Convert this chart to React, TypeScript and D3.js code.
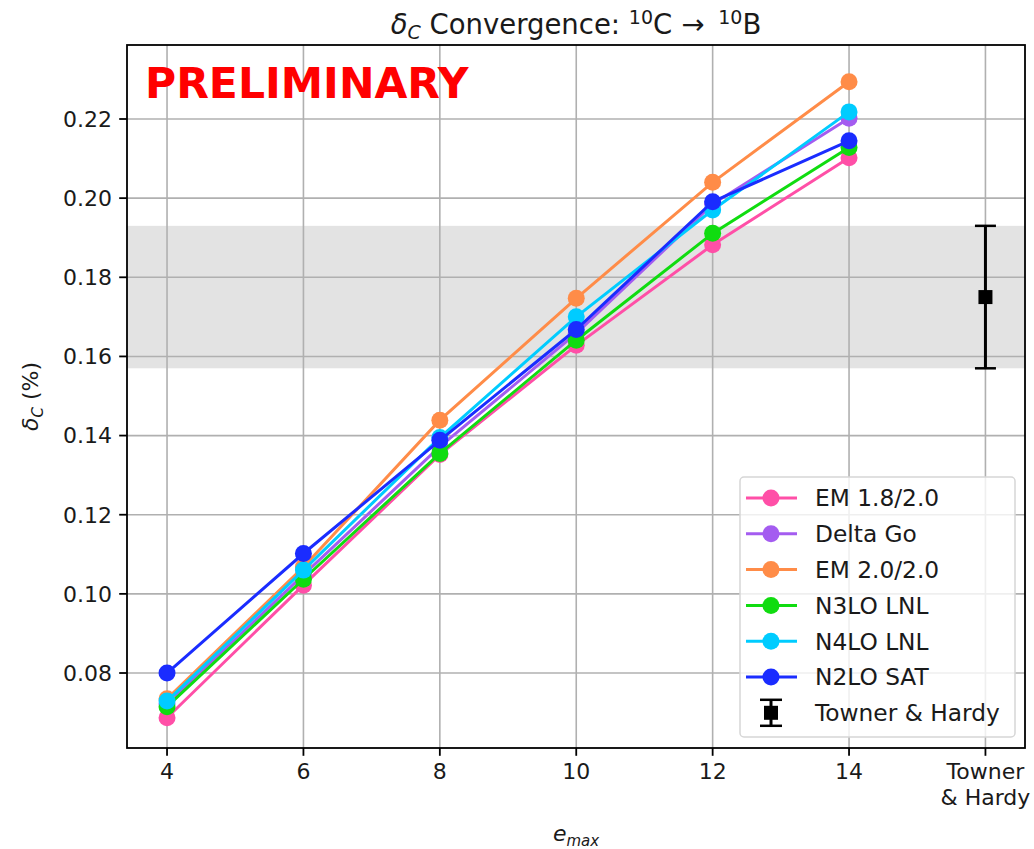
import React from "react";
import { scaleLinear, line } from "d3";

const width = 1034;
const height = 849;

// plot area in pixels
const plot = { left: 127, right: 1025, top: 45, bottom: 748 };

const font = "DejaVu Sans, Verdana, sans-serif";
const gridColor = "#b0b0b0";

// Data
const emax = [4, 6, 8, 10, 12, 14];

const seriesNames = ["EM 1.8/2.0", "Delta Go", "EM 2.0/2.0", "N3LO LNL", "N4LO LNL", "N2LO SAT"];
const seriesColors = ["#ff4fa7", "#a45cf0", "#ff8c48", "#10dc10", "#00ccff", "#1a2cff"];

const em18 = [0.0687, 0.1022, 0.1352, 0.1628, 0.1882, 0.2102];
const deltaGo = [0.0722, 0.1048, 0.1372, 0.1658, 0.1985, 0.2202];
const em20 = [0.0735, 0.1068, 0.1439, 0.1747, 0.204, 0.2294];
const n3lo = [0.0715, 0.1037, 0.1355, 0.1641, 0.1911, 0.2128];
const n4lo = [0.0729, 0.106, 0.1395, 0.17, 0.197, 0.2218];
const n2loSat = [0.08, 0.1102, 0.1388, 0.1668, 0.1991, 0.2145];

const seriesValues = [em18, deltaGo, em20, n3lo, n4lo, n2loSat];

// Towner & Hardy reference value
const thX = 16;
const thValue = 0.175;
const thError = 0.018;
const bandLow = 0.157;
const bandHigh = 0.193;

const xTicks = [4, 6, 8, 10, 12, 14, 16];
const xTickLabels = ["4", "6", "8", "10", "12", "14", "Towner\n& Hardy"];
const yTicks = [0.08, 0.1, 0.12, 0.14, 0.16, 0.18, 0.2, 0.22];

const xScale = scaleLinear().domain([3.413, 16.58]).range([plot.left, plot.right]);
const yScale = scaleLinear().domain([0.06105, 0.2387]).range([plot.bottom, plot.top]);

const Legend = () => {
  const x0 = 740;
  const y0 = 477;
  const rowH = 35.8;
  const entries = [...seriesNames, "Towner & Hardy"];
  return (
    <g>
      <rect
        x={x0}
        y={y0}
        width={275}
        height={260}
        rx={4}
        fill="white"
        fillOpacity={0.8}
        stroke="#d6d6d6"
        strokeWidth={1.5}
      />
      {entries.map((name, i) => {
        const cy = y0 + 21 + i * rowH;
        const isTH = i === seriesNames.length;
        return (
          <g key={name}>
            {isTH ? (
              <g>
                <line x1={771} x2={771} y1={cy - 13} y2={cy + 13} stroke="black" strokeWidth={3} />
                <line x1={760} x2={782} y1={cy - 13} y2={cy - 13} stroke="black" strokeWidth={2.5} />
                <line x1={760} x2={782} y1={cy + 13} y2={cy + 13} stroke="black" strokeWidth={2.5} />
                <rect x={764} y={cy - 7} width={14} height={14} fill="black" />
              </g>
            ) : (
              <g>
                <line x1={746} x2={797} y1={cy} y2={cy} stroke={seriesColors[i]} strokeWidth={3} />
                <circle cx={771} cy={cy} r={8.5} fill={seriesColors[i]} />
              </g>
            )}
            <text x={815} y={cy} dy="0.36em" fontSize={23.3} fill="#1a1a1a" fontFamily={font}>
              {name}
            </text>
          </g>
        );
      })}
    </g>
  );
};

export default function App() {
  const lineGen = line<number>()
    .x((_, i) => xScale(emax[i]))
    .y((d) => yScale(d));

  return (
    <svg
      width={width}
      height={height}
      style={{ position: "absolute", left: 0, top: 0, background: "white" }}
      fontFamily={font}
    >
      {/* band */}
      <rect
        x={plot.left}
        y={yScale(bandHigh)}
        width={plot.right - plot.left}
        height={yScale(bandLow) - yScale(bandHigh)}
        fill="#e3e3e3"
      />
      {/* grid */}
      {xTicks.map((t) => (
        <line key={"gx" + t} x1={xScale(t)} x2={xScale(t)} y1={plot.top} y2={plot.bottom} stroke={gridColor} strokeWidth={1.6} />
      ))}
      {yTicks.map((t) => (
        <line key={"gy" + t} x1={plot.left} x2={plot.right} y1={yScale(t)} y2={yScale(t)} stroke={gridColor} strokeWidth={1.6} />
      ))}

      {/* series */}
      {seriesValues.map((vals, si) => (
        <g key={seriesNames[si]}>
          <path d={lineGen(vals) || ""} fill="none" stroke={seriesColors[si]} strokeWidth={3} />
          {vals.map((v, i) => (
            <circle key={i} cx={xScale(emax[i])} cy={yScale(v)} r={8.5} fill={seriesColors[si]} />
          ))}
        </g>
      ))}

      {/* Towner & Hardy errorbar */}
      <g>
        <line
          x1={xScale(thX)}
          x2={xScale(thX)}
          y1={yScale(thValue + thError)}
          y2={yScale(thValue - thError)}
          stroke="black"
          strokeWidth={3}
        />
        {[thValue + thError, thValue - thError].map((v) => (
          <line key={v} x1={xScale(thX) - 10.5} x2={xScale(thX) + 10.5} y1={yScale(v)} y2={yScale(v)} stroke="black" strokeWidth={2.5} />
        ))}
        <rect x={xScale(thX) - 7} y={yScale(thValue) - 7} width={14} height={14} fill="black" />
      </g>

      {/* PRELIMINARY */}
      <text x={145} y={98} fontSize={42.5} fontWeight="bold" fill="red">
        PRELIMINARY
      </text>

      <Legend />

      {/* spines */}
      <rect
        x={plot.left}
        y={plot.top}
        width={plot.right - plot.left}
        height={plot.bottom - plot.top}
        fill="none"
        stroke="black"
        strokeWidth={1.8}
      />

      {/* x ticks */}
      {xTicks.map((t, i) => {
        const lines = xTickLabels[i].split("\n");
        return (
          <g key={"xt" + t} transform={`translate(${xScale(t)},${plot.bottom})`}>
            <line y1={0} y2={7.8} stroke="black" strokeWidth={1.8} />
            {lines.map((l, j) => (
              <text key={j} y={31 + j * 26} textAnchor="middle" fontSize={22} fill="#1a1a1a">
                {l}
              </text>
            ))}
          </g>
        );
      })}

      {/* y ticks */}
      {yTicks.map((t) => (
        <g key={"yt" + t} transform={`translate(${plot.left},${yScale(t)})`}>
          <line x1={0} x2={-7.8} stroke="black" strokeWidth={1.8} />
          <text x={-15} dy="0.36em" textAnchor="end" fontSize={22} fill="#1a1a1a">
            {t.toFixed(2)}
          </text>
        </g>
      ))}

      {/* axis labels */}
      <text x={(plot.left + plot.right) / 2} y={841} textAnchor="middle" fontSize={22} fill="#1a1a1a">
        <tspan fontStyle="italic">e</tspan>
        <tspan fontStyle="italic" fontSize={15} dy={5}>max</tspan>
      </text>
      <text
        transform={`translate(38,${(plot.top + plot.bottom) / 2}) rotate(-90)`}
        textAnchor="middle"
        fontSize={22}
        fill="#1a1a1a"
      >
        <tspan fontStyle="italic">δ</tspan>
        <tspan fontStyle="italic" fontSize={15} dy={5}>C</tspan>
        <tspan dy={-5}> (%)</tspan>
      </text>

      {/* title */}
      <text x={(plot.left + plot.right) / 2} y={34} textAnchor="middle" fontSize={27.5} fill="#1a1a1a">
        <tspan fontStyle="italic">δ</tspan>
        <tspan fontStyle="italic" fontSize={19} dy={5}>C</tspan>
        <tspan dy={-5}> Convergence: </tspan>
        <tspan fontSize={19} dy={-10}>10</tspan>
        <tspan dy={10}>C</tspan>
        <tspan dx={9}>→</tspan>
        <tspan fontSize={19} dx={14} dy={-10}>10</tspan>
        <tspan dy={10}>B</tspan>
      </text>
    </svg>
  );
}
